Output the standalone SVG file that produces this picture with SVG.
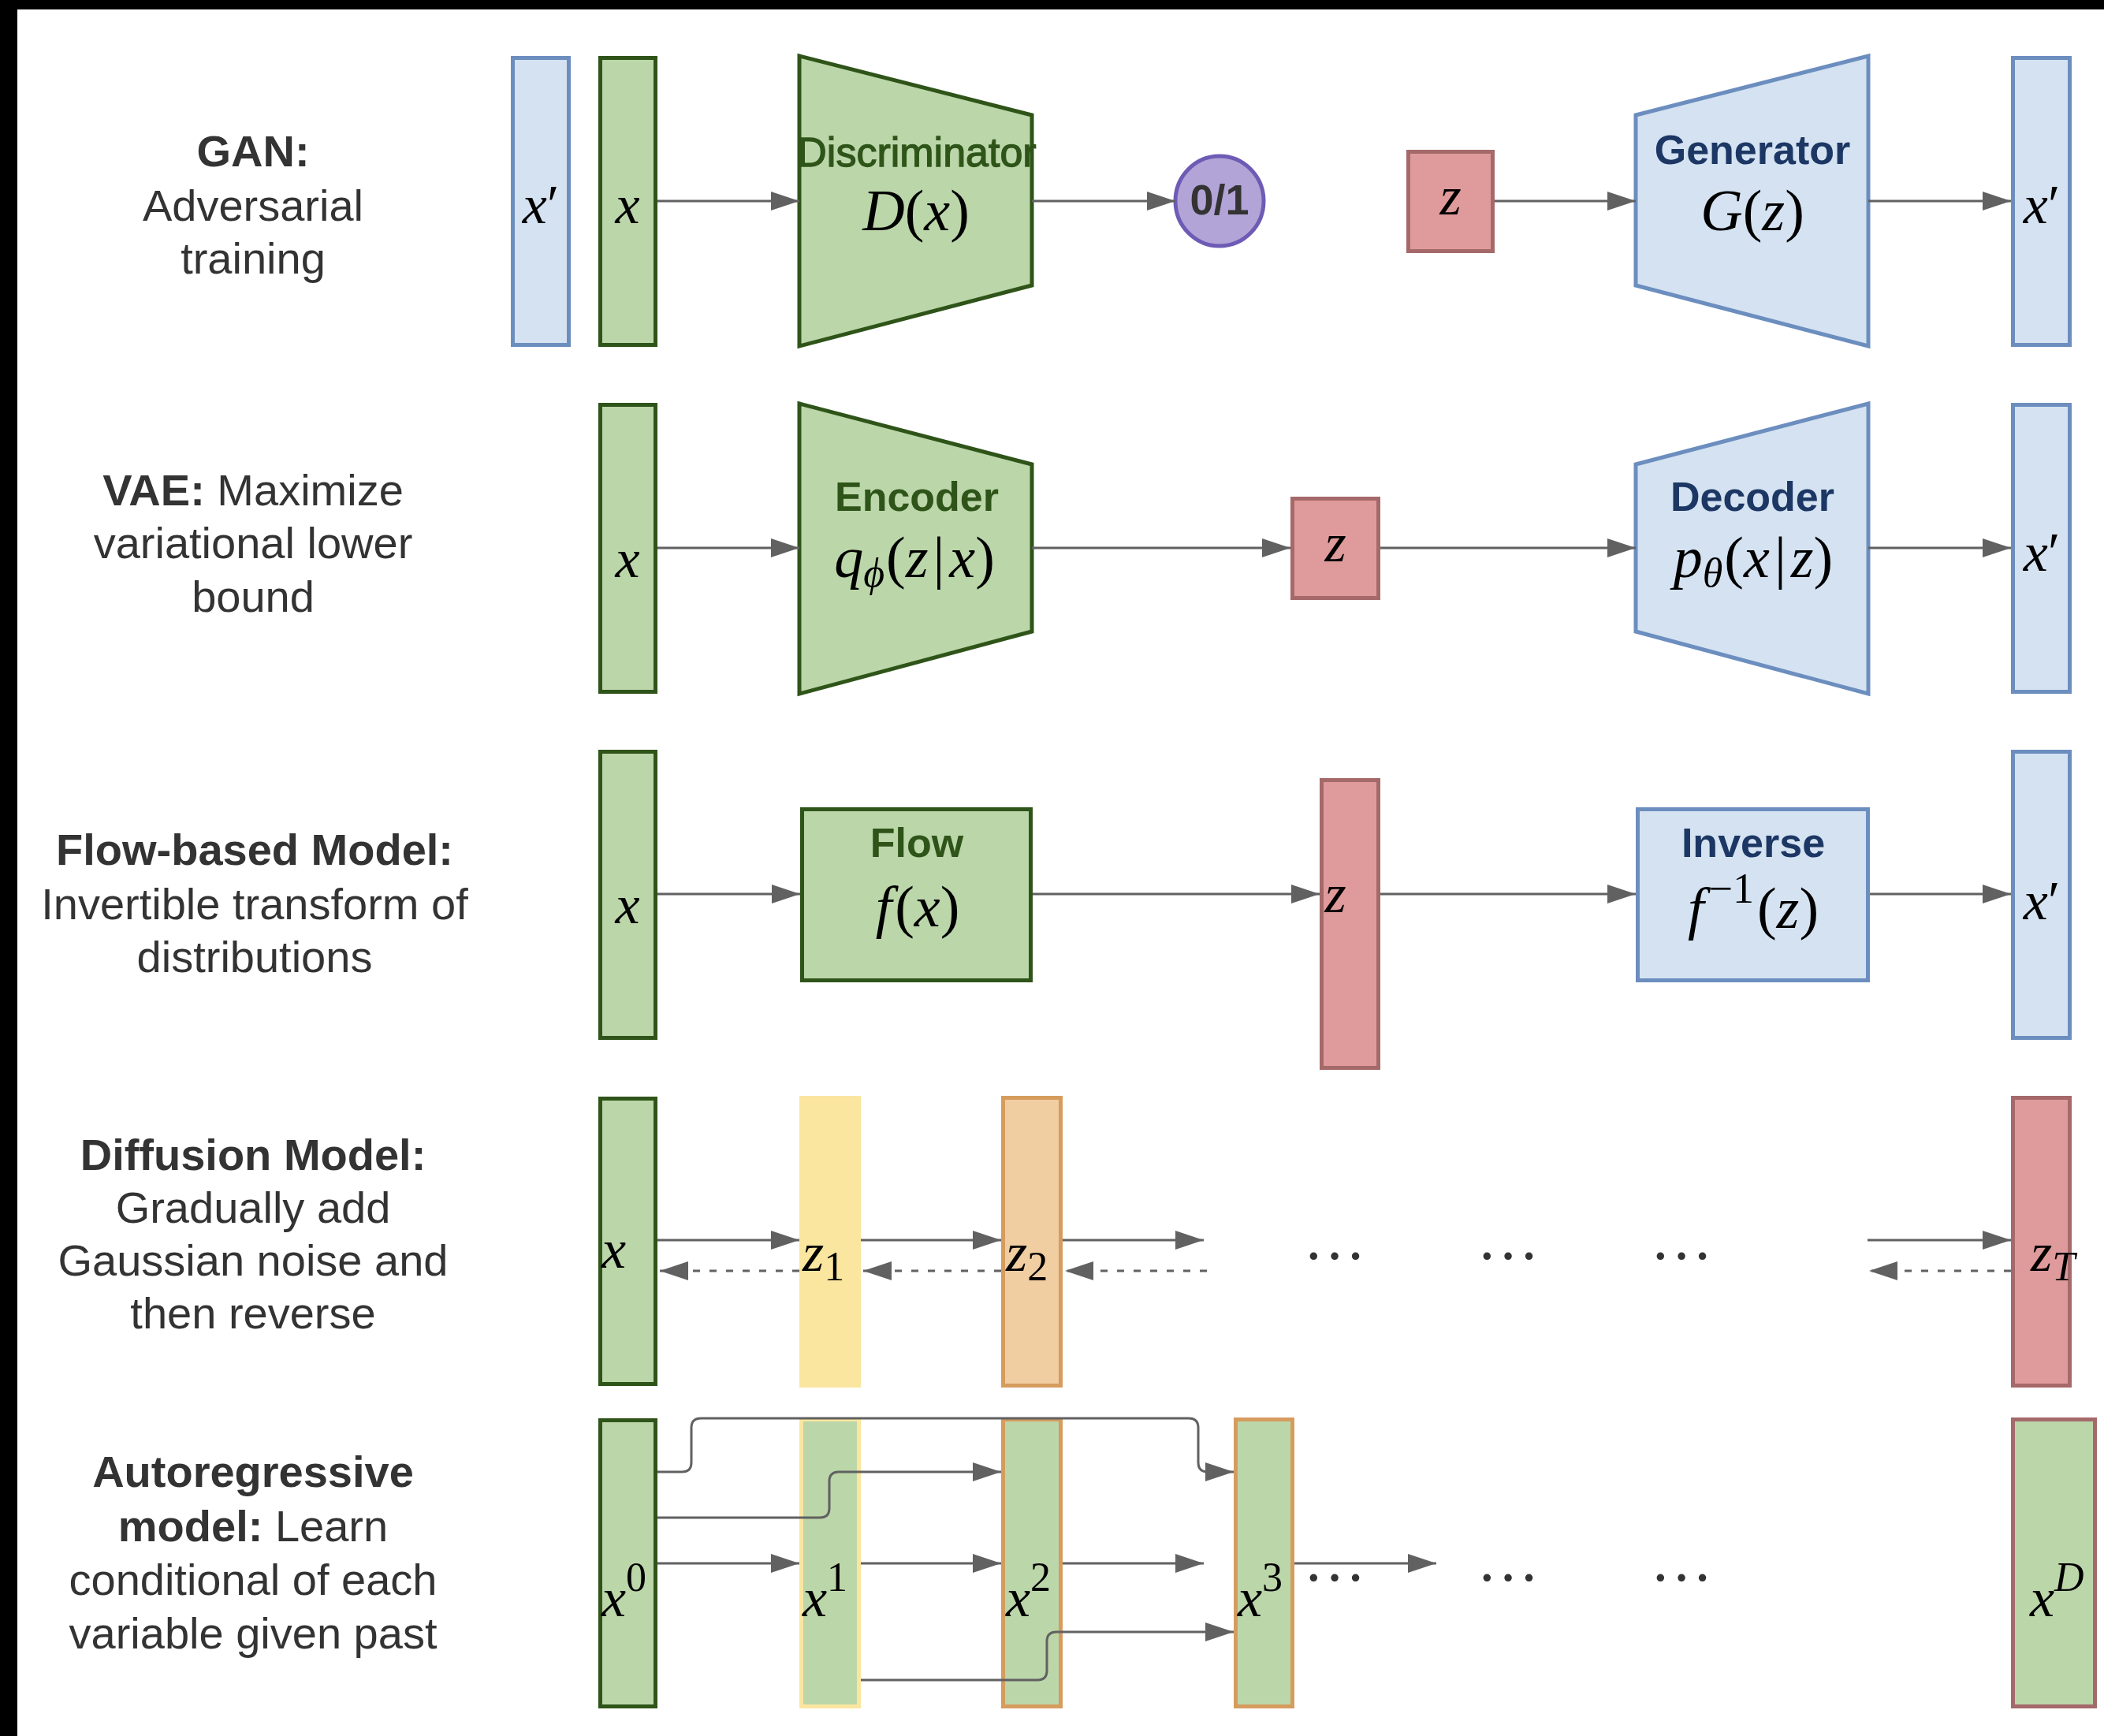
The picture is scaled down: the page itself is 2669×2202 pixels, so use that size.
<svg xmlns="http://www.w3.org/2000/svg" width="2669" height="2202" viewBox="0 0 2669 2202">
<defs>
<style>
.side{font-family:"Liberation Sans",Arial,sans-serif;font-size:56px;fill:#333333;text-anchor:middle}
.b{font-weight:bold}
.nlg{font-family:"Liberation Sans",Arial,sans-serif;font-size:52px;font-weight:bold;fill:#2f5419;text-anchor:middle}
.nlb{font-family:"Liberation Sans",Arial,sans-serif;font-size:52px;font-weight:bold;fill:#1c3764;text-anchor:middle}
.math{font-family:"Liberation Serif","Times New Roman",serif;font-size:70px;fill:#000000}
.fn{font-size:74px}
.mid{text-anchor:middle}
.it{font-style:italic}
.dots{font-family:"Liberation Serif","Times New Roman",serif;font-size:80px;fill:#333333;text-anchor:middle}
.green{fill:#bbd6a9;stroke:#2f5419;stroke-width:5}
.blue{fill:#d4e2f1;stroke:#6c8ebf;stroke-width:5}
.red{fill:#df9b9b;stroke:#a5696a;stroke-width:5}
.yellow{fill:#fbe6a0;stroke:#fbe6a0;stroke-width:5}
.orange{fill:#f1cda2;stroke:#d69c5e;stroke-width:5}
.gy{fill:#bbd6a9;stroke:#fbe6a0;stroke-width:5}
.go{fill:#bbd6a9;stroke:#d69c5e;stroke-width:5}
.gr{fill:#bbd6a9;stroke:#a5696a;stroke-width:5}
.conn{stroke:#616161;stroke-width:3;fill:none;marker-end:url(#ah)}
.dash{stroke-dasharray:9 12}
</style>
<marker id="ah" markerUnits="userSpaceOnUse" markerWidth="36" markerHeight="24" refX="36" refY="12" orient="auto">
<path d="M0,0 L36,12 L0,24 z" fill="#616161"/>
</marker>
</defs>
<rect x="0" y="0" width="2669" height="2202" fill="#000000"/>
<rect x="22" y="12" width="2647" height="2190" fill="#ffffff"/>

<g id="labels">
<text class="side" x="321" y="211"><tspan class="b">GAN:</tspan></text>
<text class="side" x="321" y="280">Adversarial</text>
<text class="side" x="321" y="347">training</text>
<text class="side" x="321" y="641"><tspan class="b">VAE:</tspan> Maximize</text>
<text class="side" x="321" y="708">variational lower</text>
<text class="side" x="321" y="776">bound</text>
<text class="side" x="323" y="1097"><tspan class="b">Flow-based Model:</tspan></text>
<text class="side" x="323" y="1166">Invertible transform of</text>
<text class="side" x="323" y="1233">distributions</text>
<text class="side" x="321" y="1484"><tspan class="b">Diffusion Model:</tspan></text>
<text class="side" x="321" y="1551">Gradually add</text>
<text class="side" x="321" y="1618">Gaussian noise and</text>
<text class="side" x="321" y="1685">then reverse</text>
<text class="side" x="321" y="1886"><tspan class="b">Autoregressive</tspan></text>
<text class="side" x="321" y="1955"><tspan class="b">model:</tspan> Learn</text>
<text class="side" x="321" y="2023">conditional of each</text>
<text class="side" x="321" y="2091">variable given past</text>
</g>

<g id="gan-xprime-real"><rect class="blue" x="650.5" y="73.5" width="71" height="364"/><text class="math mid" x="686" y="283"><tspan class="it">x</tspan>′</text></g>
<g id="gan-x"><rect class="green" x="761.5" y="73.5" width="70" height="364"/><text class="math mid it" x="796" y="283">x</text></g>
<g id="discriminator"><polygon class="green" points="1014,71 1309,146 1309,362 1014,439"/><text class="nlg" x="1163" y="211" style="font-weight:normal;stroke:#2f5419;stroke-width:1.3">Discriminator</text><text class="math fn mid" x="1162" y="292"><tspan class="it">D</tspan>(<tspan class="it">x</tspan>)</text></g>
<g id="gan-out"><ellipse cx="1547" cy="255" rx="56" ry="57" fill="#b2a4d6" stroke="#6e5bb5" stroke-width="5"/><text x="1547" y="272" font-family="Liberation Sans, Arial, sans-serif" font-size="54" font-weight="bold" fill="#333333" text-anchor="middle">0/1</text></g>
<g id="gan-z"><rect class="red" x="1786.5" y="192.5" width="107" height="126"/><text class="math mid it" x="1840" y="272">z</text></g>
<g id="generator"><polygon class="blue" points="2075,146 2370,71 2370,439 2075,362"/><text class="nlb" x="2223" y="208">Generator</text><text class="math fn mid" x="2223" y="292"><tspan class="it">G</tspan>(<tspan class="it">z</tspan>)</text></g>
<g id="gan-xprime"><rect class="blue" x="2553.5" y="73.5" width="72" height="364"/><text class="math mid" x="2590" y="283"><tspan class="it">x</tspan>′</text></g>

<g id="vae-x"><rect class="green" x="761.5" y="513.5" width="70" height="364"/><text class="math mid it" x="796" y="732">x</text></g>
<g id="encoder"><polygon class="green" points="1014,512 1309,589 1309,801 1014,880"/><text class="nlg" x="1163" y="648">Encoder</text><text class="math fn mid" x="1160" y="732"><tspan class="it">q</tspan><tspan class="it" font-size="52" dy="12">ϕ</tspan><tspan dy="-12" dx="2">(</tspan><tspan class="it">z</tspan><tspan dx="6">|</tspan><tspan class="it" dx="6">x</tspan>)</text></g>
<g id="vae-z"><rect class="red" x="1639.5" y="632.5" width="109" height="126"/><text class="math mid it" x="1694" y="712">z</text></g>
<g id="decoder"><polygon class="blue" points="2075,589 2370,512 2370,880 2075,801"/><text class="nlb" x="2223" y="648">Decoder</text><text class="math fn mid" x="2224" y="732"><tspan class="it">p</tspan><tspan class="it" font-size="52" dy="12">θ</tspan><tspan dy="-12" dx="2">(</tspan><tspan class="it">x</tspan><tspan dx="6">|</tspan><tspan class="it" dx="6">z</tspan>)</text></g>
<g id="vae-xprime"><rect class="blue" x="2553.5" y="513.5" width="72" height="364"/><text class="math mid" x="2590" y="724"><tspan class="it">x</tspan>′</text></g>

<g id="flow-x"><rect class="green" x="761.5" y="953.5" width="70" height="363"/><text class="math mid it" x="796" y="1171">x</text></g>
<g id="flow"><rect class="green" x="1017.5" y="1026.5" width="290" height="217"/><text class="nlg" x="1163" y="1087">Flow</text><text class="math fn mid" x="1164" y="1175"><tspan class="it">f</tspan><tspan dx="4">(</tspan><tspan class="it">x</tspan>)</text></g>
<g id="flow-z"><rect class="red" x="1676.5" y="989.5" width="72" height="365"/><text class="math mid it" x="1694" y="1157">z</text></g>
<g id="inverse"><rect class="blue" x="2077.5" y="1026.5" width="292" height="217"/><text class="nlb" x="2224" y="1087">Inverse</text><text class="math fn mid" x="2224" y="1177"><tspan class="it">f</tspan><tspan font-size="54" dy="-32" dx="6">−1</tspan><tspan dy="32" dx="4">(</tspan><tspan class="it">z</tspan>)</text></g>
<g id="flow-xprime"><rect class="blue" x="2553.5" y="953.5" width="72" height="363"/><text class="math mid" x="2590" y="1166"><tspan class="it">x</tspan>′</text></g>

<g id="diff-x"><rect class="green" x="761.5" y="1393.5" width="70" height="362"/><text class="math it" x="763" y="1608">x</text></g>
<g id="diff-z1"><rect class="yellow" x="1016.5" y="1392.5" width="73" height="365"/><text class="math" x="1018" y="1612"><tspan class="it">z</tspan><tspan font-size="52" dy="12">1</tspan></text></g>
<g id="diff-z2"><rect class="orange" x="1272.5" y="1392.5" width="73" height="365"/><text class="math" x="1276" y="1612"><tspan class="it">z</tspan><tspan font-size="52" dy="12">2</tspan></text></g>
<g id="diff-dots"><text class="dots" x="1693" y="1620">···</text><text class="dots" x="1913" y="1620">···</text><text class="dots" x="2133" y="1620">···</text></g>
<g id="diff-zT"><rect class="red" x="2553.5" y="1392.5" width="72" height="365"/><text class="math" x="2576" y="1612"><tspan class="it">z</tspan><tspan class="it" font-size="52" dy="12">T</tspan></text></g>

<g id="ar-x0"><rect class="green" x="761.5" y="1801.5" width="70" height="363"/><text class="math" x="763" y="2050"><tspan class="it">x</tspan><tspan font-size="52" dy="-32">0</tspan></text></g>
<g id="ar-x1"><rect class="gy" x="1016.5" y="1800.5" width="73" height="364"/><text class="math" x="1018" y="2050"><tspan class="it">x</tspan><tspan font-size="52" dy="-32">1</tspan></text></g>
<g id="ar-x2"><rect class="go" x="1272.5" y="1800.5" width="73" height="364"/><text class="math" x="1276" y="2050"><tspan class="it">x</tspan><tspan font-size="52" dy="-32">2</tspan></text></g>
<g id="ar-x3"><rect class="go" x="1567.5" y="1800.5" width="72" height="364"/><text class="math" x="1570" y="2050"><tspan class="it">x</tspan><tspan font-size="52" dy="-32">3</tspan></text></g>
<g id="ar-dots"><text class="dots" x="1693" y="2028">···</text><text class="dots" x="1913" y="2028">···</text><text class="dots" x="2133" y="2028">···</text></g>
<g id="ar-xD"><rect class="gr" x="2553.5" y="1800.5" width="104" height="364"/><text class="math" x="2575" y="2050"><tspan class="it">x</tspan><tspan class="it" font-size="52" dy="-32">D</tspan></text></g>

<g id="connectors">
<line class="conn" x1="834" y1="255" x2="1014" y2="255"/>
<line class="conn" x1="1309" y1="255" x2="1491" y2="255"/>
<line class="conn" x1="1896" y1="255" x2="2075" y2="255"/>
<line class="conn" x1="2370" y1="255" x2="2551" y2="255"/>
<line class="conn" x1="834" y1="695" x2="1014" y2="695"/>
<line class="conn" x1="1309" y1="695" x2="1637" y2="695"/>
<line class="conn" x1="1751" y1="695" x2="2075" y2="695"/>
<line class="conn" x1="2370" y1="695" x2="2551" y2="695"/>
<line class="conn" x1="834" y1="1134" x2="1015" y2="1134"/>
<line class="conn" x1="1310" y1="1134" x2="1674" y2="1134"/>
<line class="conn" x1="1751" y1="1134" x2="2075" y2="1134"/>
<line class="conn" x1="2372" y1="1134" x2="2551" y2="1134"/>
<line class="conn" x1="834" y1="1573" x2="1014" y2="1573"/>
<line class="conn" x1="1092" y1="1573" x2="1270" y2="1573"/>
<line class="conn" x1="1348" y1="1573" x2="1527" y2="1573"/>
<line class="conn" x1="2369" y1="1573" x2="2551" y2="1573"/>
<line class="conn dash" x1="1014" y1="1612" x2="837" y2="1612"/>
<line class="conn dash" x1="1270" y1="1612" x2="1095" y2="1612"/>
<line class="conn dash" x1="1531" y1="1612" x2="1351" y2="1612"/>
<line class="conn dash" x1="2551" y1="1612" x2="2371" y2="1612"/>
<path class="conn" d="M834,1867 L865,1867 Q877,1867 877,1855 L877,1811 Q877,1799 889,1799 L1508,1799 Q1520,1799 1520,1811 L1520,1855 Q1520,1867 1532,1867 L1565,1867"/>
<path class="conn" d="M834,1925 L1040,1925 Q1052,1925 1052,1913 L1052,1879 Q1052,1867 1064,1867 L1270,1867"/>
<line class="conn" x1="834" y1="1983" x2="1014" y2="1983"/>
<line class="conn" x1="1092" y1="1983" x2="1270" y2="1983"/>
<line class="conn" x1="1348" y1="1983" x2="1527" y2="1983"/>
<line class="conn" x1="1642" y1="1983" x2="1822" y2="1983"/>
<path class="conn" d="M1092,2131 L1316,2131 Q1328,2131 1328,2119 L1328,2082 Q1328,2070 1340,2070 L1565,2070"/>
</g>
</svg>
